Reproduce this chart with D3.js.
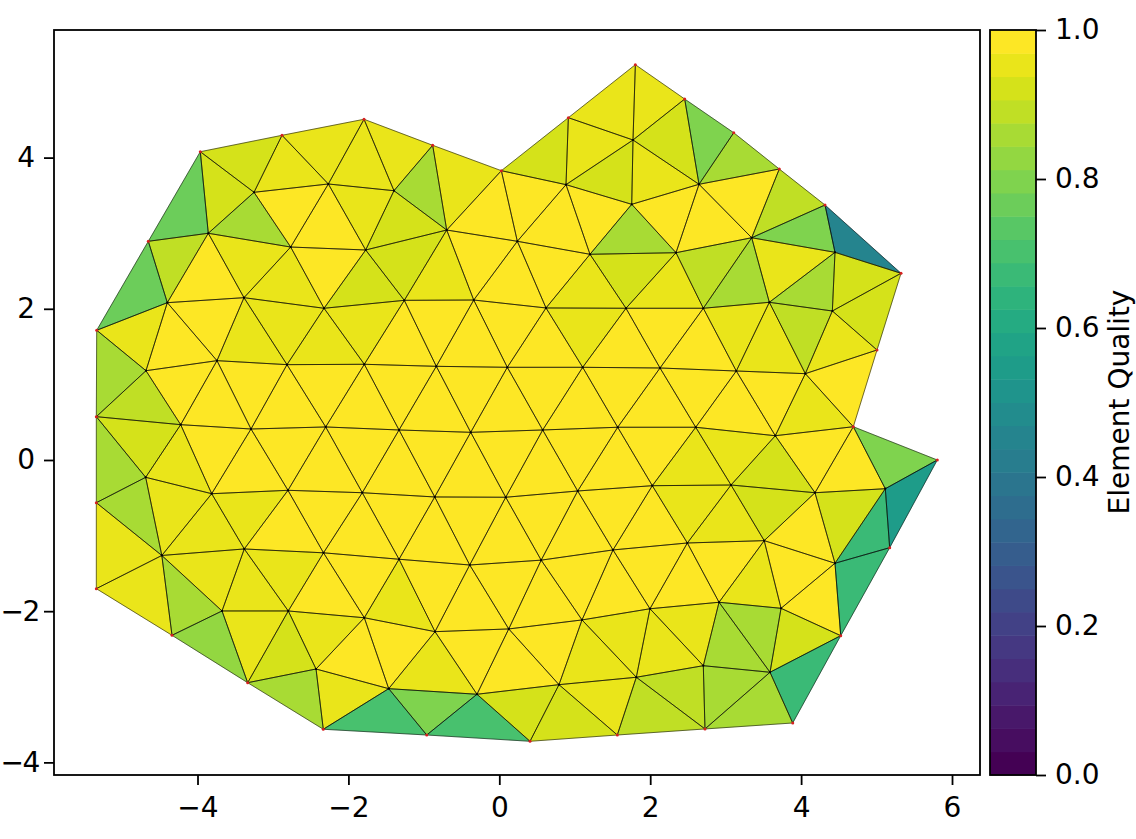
<!DOCTYPE html>
<html>
<head>
<meta charset="utf-8">
<script src="https://cdn.jsdelivr.net/npm/d3@7"></script>
<style>
    html, body { margin: 0; padding: 0; background: #fff; }
    svg { display: block; }
    text { font-family: "DejaVu Sans", sans-serif; fill: #000; }
</style>
</head>
<body>
<div id="chart"></div>
<script>
// Mesh nodes (index = node id)
var nodeX = [
    1.803, 2.457, 0.915, -1.793, 3.107, -2.880, 1.772, -0.883, -3.963, 3.711,
    0.027, 0.884, 2.647, -2.266, -1.396, -3.251, 1.755, 4.317, -3.857, -0.697,
    3.345, 0.239, -4.652, -2.765, -1.771, 1.202, 2.342, 4.449, 5.324, -3.384,
    -4.400, -1.259, -0.339, 3.579, 0.619, 1.679, 2.704, -2.323, 4.414, -5.336,
    5.006, -3.742, -1.789, -2.814, -0.835, 0.106, 1.105, 2.130, -4.683, 3.141,
    4.056, -5.341, -4.223, 4.692, -2.301, 1.569, 2.603, -3.291, -1.329, 0.575,
    -0.379, 3.658, 5.805, -4.687, 3.071, 2.028, 5.116, -2.801, 1.039, -1.816,
    4.184, -3.812, -0.856, 0.085, -5.341, 3.511, 2.492, 5.174, -3.380, 1.507,
    -2.330, -4.473, -1.329, 0.555, 4.449, -0.392, -5.341, 2.912, 1.997, 3.734,
    -3.675, -2.797, -1.789, 1.096, 0.125, -0.852, -4.338, 4.525, 2.704, -2.429,
    3.588, 1.816, -3.335, 0.791, -1.466, -0.296, 3.889, 2.726, -2.333, -0.962,
    1.564, 0.407
];
var nodeY = [
    5.229, 4.775, 4.528, 4.507, 4.329, 4.295, 4.233, 4.163, 4.078, 3.849,
    3.827, 3.642, 3.647, 3.651, 3.562, 3.541, 3.382, 3.373, 2.999, 3.042,
    2.940, 2.893, 2.893, 2.817, 2.778, 2.721, 2.742, 2.747, 2.470, 2.147,
    2.081, 2.112, 2.116, 2.086, 2.011, 2.007, 2.007, 2.007, 1.971, 1.716,
    1.455, 1.314, 1.266, 1.261, 1.239, 1.226, 1.226, 1.217, 1.181, 1.177,
    1.142, 0.573, 0.467, 0.440, 0.437, 0.433, 0.433, 0.410, 0.397, 0.397,
    0.366, 0.321, 0.000, -0.229, -0.331, -0.340, -0.380, -0.401, -0.410, -0.433,
    -0.433, -0.446, -0.489, -0.493, -0.565, -1.067, -1.098, -1.160, -1.177, -1.190,
    -1.228, -1.263, -1.313, -1.325, -1.366, -1.389, -1.702, -1.882, -1.968, -1.962,
    -1.997, -1.997, -2.087, -2.116, -2.235, -2.271, -2.319, -2.324, -2.721, -2.765,
    -2.808, -2.874, -2.946, -2.972, -3.025, -3.099, -3.479, -3.558, -3.562, -3.638,
    -3.638, -3.721
];

// Nodes on the outline get the red marker
var boundaryNodes = [8, 5, 3, 7, 10, 2, 0, 1, 4, 9, 17, 28, 40, 53, 62, 77, 97, 106,
    107, 110, 111, 109, 108, 102, 96, 86, 74, 51, 39, 22];

var triangles = [
    [8,5,15], [5,13,15], [5,3,13], [3,14,13], [3,7,14], [7,19,14], [7,10,19], [8,15,18],
    [8,18,22], [15,23,18], [15,13,23], [13,24,23], [13,14,24], [14,19,24], [22,18,30], [18,29,30],
    [18,23,29], [23,37,29], [23,24,37], [24,31,37], [24,19,31], [19,32,31], [19,21,32], [19,10,21],
    [10,11,21], [10,2,11], [2,6,11], [2,0,6], [0,1,6], [1,12,6], [1,4,12], [4,9,12],
    [6,12,16], [6,16,11], [11,16,25], [11,25,21], [21,25,34], [21,34,32], [16,26,25], [16,12,26],
    [12,20,26], [12,9,20], [9,17,20], [17,27,20], [17,28,27], [20,27,33], [20,33,36], [20,36,26],
    [26,36,35], [26,35,25], [25,35,34], [27,38,33], [27,28,38], [28,40,38], [33,38,50], [38,40,50],
    [40,53,50], [33,50,49], [33,49,36], [36,49,47], [36,47,35], [35,47,46], [35,46,34], [34,46,45],
    [34,45,32], [32,45,44], [32,44,31], [31,44,42], [31,42,37], [37,42,43], [37,43,29], [29,43,41],
    [29,41,30], [30,41,48], [30,48,39], [22,30,39], [39,48,51], [48,52,51], [48,41,52], [41,57,52],
    [41,43,57], [43,54,57], [43,42,54], [42,58,54], [42,44,58], [44,60,58], [44,45,60], [45,59,60],
    [45,46,59], [46,55,59], [46,47,55], [47,56,55], [47,49,56], [49,61,56], [49,50,61], [50,53,61],
    [61,53,70], [53,66,70], [53,62,66], [62,77,66], [66,77,84], [66,84,70], [70,84,75], [61,70,64],
    [64,70,75], [56,61,64], [55,56,65], [56,64,65], [64,75,76], [65,64,76], [68,55,65], [59,55,68],
    [59,68,73], [60,59,73], [60,73,72], [58,60,72], [58,72,69], [54,58,69], [54,69,67], [57,54,67],
    [57,67,71], [57,71,52], [52,71,63], [51,52,63], [51,63,74], [74,63,81], [63,71,81], [71,78,81],
    [71,67,78], [67,80,78], [67,69,80], [69,82,80], [69,72,82], [72,85,82], [72,73,85], [73,83,85],
    [73,68,83], [68,79,83], [68,65,79], [65,76,79], [74,81,86], [81,96,86], [81,90,96], [81,78,90],
    [78,91,90], [78,80,91], [80,92,91], [80,82,92], [82,95,92], [82,85,95], [85,94,95], [85,83,94],
    [83,93,94], [83,79,93], [79,88,93], [79,76,88], [76,87,88], [76,75,87], [75,89,87], [75,84,89],
    [84,97,89], [84,77,97], [89,97,100], [97,106,100], [87,89,100], [87,100,98], [88,87,98], [88,98,101],
    [93,88,101], [93,101,103], [94,93,103], [94,103,105], [95,94,105], [95,105,104], [92,95,104], [91,92,99],
    [92,104,99], [90,91,102], [91,99,102], [96,90,102], [99,104,108], [102,99,108], [108,104,109], [104,105,109],
    [109,105,111], [105,103,111], [103,110,111], [103,101,110], [101,107,110], [101,98,107], [98,100,107], [100,106,107]
];

// Element quality per triangle, same order as above
var quality = [
    .92, .955, .955, .955, .955, .86, .955, .92,
    .77, .86, .99, .99, .955, .92, .89, .99,
    .955, .955, .99, .92, .92, .955, .99, .99,
    .99, .92, .955, .955, .955, .92, .81, .86,
    .955, .92, .99, .99, .99, .99, .86, .99,
    .99, .99, .89, .81, .45, .955, .86, .89,
    .955, .92, .955, .86, .92, .92, .89, .955,
    .99, .955, .955, .99, .99, .99, .955, .99,
    .99, .99, .99, .99, .955, .955, .955, .955,
    .99, .99, .955, .77, .86, .89, .99, .99,
    .99, .99, .99, .99, .99, .99, .99, .99,
    .99, .99, .99, .99, .99, .99, .99, .955,
    .99, .99, .81, .55, .67, .92, .99, .92,
    .92, .955, .99, .955, .955, .955, .99, .99,
    .99, .99, .99, .99, .99, .99, .99, .99,
    .99, .99, .955, .92, .86, .86, .955, .955,
    .955, .99, .99, .99, .99, .99, .99, .99,
    .99, .99, .99, .99, .955, .955, .86, .955,
    .955, .955, .99, .99, .955, .99, .99, .99,
    .99, .99, .99, .99, .99, .99, .955, .99,
    .99, .67, .92, .67, .86, .86, .955, .955,
    .955, .955, .99, .99, .99, .955, .99, .955,
    .99, .955, .92, .83, .955, .86, .70, .81,
    .70, .92, .92, .955, .89, .89, .86, .86
];

var xTicks = [-4, -2, 0, 2, 4, 6];
var yTicks = [-4, -2, 0, 2, 4];
var colorbarTicks = [0, 0.2, 0.4, 0.6, 0.8, 1];
var colorbarLabel = "Element Quality";
var colorLevels = 32;

var width = 1136, height = 839;
var margin = { top: 30, right: 156, bottom: 64, left: 54 };
var fontSize = 28;

var svg = d3.select("#chart").append("svg")
    .attr("width", width)
    .attr("height", height);

// Define scales
var xScale = d3.scaleLinear().domain([-5.902, 6.371]).range([margin.left, width - margin.right]);
var yScale = d3.scaleLinear().domain([-4.167, 5.688]).range([height - margin.bottom, margin.top]);

// viridis cut into 32 flat levels, like a resampled matplotlib colormap
function levelColor(i) { return d3.interpolateViridis(i / (colorLevels - 1)); }
function qualityColor(q) { return levelColor(Math.min(colorLevels - 1, Math.floor(q * colorLevels))); }

var line = d3.line()
    .x(function (n) { return xScale(nodeX[n]); })
    .y(function (n) { return yScale(nodeY[n]); })
    .curve(d3.curveLinearClosed);

// Filled elements, the stroke is drawn in a second pass so neighbours can't cover it
var mesh = svg.append("g").attr("class", "mesh");

mesh.selectAll("path.fill")
    .data(triangles)
    .enter().append("path")
    .attr("class", "fill")
    .attr("d", line)
    .attr("fill", function (d, i) { return qualityColor(quality[i]); })
    .attr("stroke", function (d, i) { return qualityColor(quality[i]); })
    .attr("stroke-width", 0.4);

mesh.selectAll("path.edge")
    .data(triangles)
    .enter().append("path")
    .attr("class", "edge")
    .attr("d", line)
    .attr("fill", "none")
    .attr("stroke", "#000")
    .attr("stroke-opacity", 0.8)
    .attr("stroke-width", 0.7);

mesh.selectAll("circle")
    .data(nodeX.map(function (d, i) { return i; }))
    .enter().append("circle")
    .attr("cx", function (n) { return xScale(nodeX[n]); })
    .attr("cy", function (n) { return yScale(nodeY[n]); })
    .attr("r", function (n) { return boundaryNodes.indexOf(n) >= 0 ? 1.5 : 1.1; })
    .attr("fill", function (n) { return boundaryNodes.indexOf(n) >= 0 ? "#d62020" : "#000"; });

// Axes
var xAxis = d3.axisBottom(xScale).tickValues(xTicks).tickSize(10).tickPadding(12).tickFormat(d3.format("d"));
var yAxis = d3.axisLeft(yScale).tickValues(yTicks).tickSize(10).tickPadding(9).tickFormat(d3.format("d"));

function styleAxis(g) {
    g.select(".domain").remove();
    g.selectAll(".tick line").attr("stroke", "#000").attr("stroke-width", 1.8);
    g.selectAll(".tick text").attr("font-size", fontSize).style("font-family", '"DejaVu Sans"');
}

svg.append("g")
    .attr("class", "x axis")
    .attr("transform", "translate(0," + (height - margin.bottom) + ")")
    .call(xAxis)
    .call(styleAxis);

svg.append("g")
    .attr("class", "y axis")
    .attr("transform", "translate(" + margin.left + ",0)")
    .call(yAxis)
    .call(styleAxis);

// The negative labels would run past the left edge at this size, so pull them in
svg.select(".y.axis").selectAll(".tick text")
    .filter(function (d) { return d < 0; })
    .attr("text-anchor", "start")
    .attr("x", 0.5 - margin.left)
    .style("letter-spacing", "-1.5px");

svg.append("rect")
    .attr("x", margin.left)
    .attr("y", margin.top)
    .attr("width", width - margin.right - margin.left)
    .attr("height", height - margin.bottom - margin.top)
    .attr("fill", "none")
    .attr("stroke", "#000")
    .attr("stroke-width", 1.8);

// Colorbar
var barLeft = 990, barRight = 1036;
var barScale = d3.scaleLinear().domain([0, 1]).range([height - margin.bottom, margin.top]);

svg.append("g").attr("class", "colorbar")
    .selectAll("rect")
    .data(d3.range(colorLevels))
    .enter().append("rect")
    .attr("x", barLeft)
    .attr("width", barRight - barLeft)
    .attr("y", function (i) { return barScale((i + 1) / colorLevels); })
    .attr("height", function (i) { return barScale(i / colorLevels) - barScale((i + 1) / colorLevels) + 0.5; })
    .attr("fill", levelColor);

svg.append("g")
    .attr("class", "colorbar axis")
    .attr("transform", "translate(" + barRight + ",0)")
    .call(d3.axisRight(barScale).tickValues(colorbarTicks).tickSize(10).tickPadding(9).tickFormat(d3.format(".1f")))
    .call(styleAxis);

svg.append("rect")
    .attr("x", barLeft)
    .attr("y", margin.top)
    .attr("width", barRight - barLeft)
    .attr("height", height - margin.bottom - margin.top)
    .attr("fill", "none")
    .attr("stroke", "#000")
    .attr("stroke-width", 1.8);

svg.append("text")
    .attr("transform", "translate(1129,402) rotate(-90)")
    .attr("text-anchor", "middle")
    .attr("font-size", fontSize)
    .text(colorbarLabel);
</script>
</body>
</html>
